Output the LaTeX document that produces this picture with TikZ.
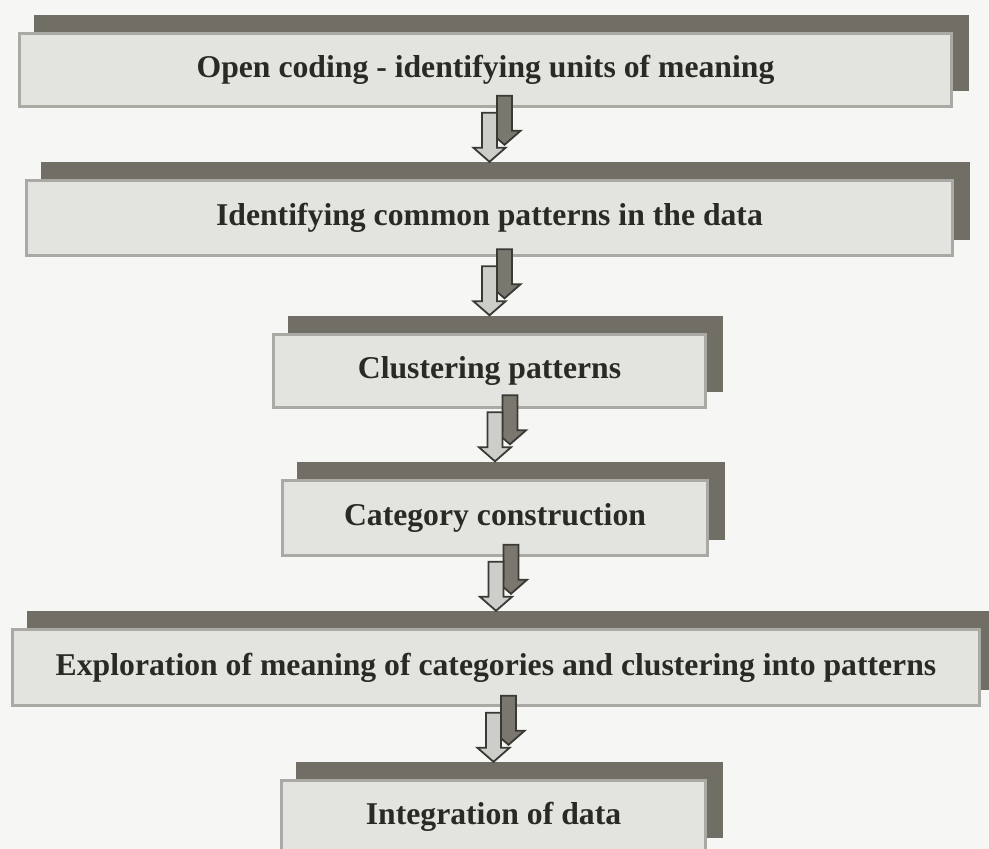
\documentclass[tikz,border=0pt]{standalone}
\usepackage{fontspec}
\setmainfont{Liberation Serif}
\definecolor{paper}{HTML}{F6F6F4}
\definecolor{backgray}{HTML}{716E65}
\definecolor{frontgray}{HTML}{E3E3E0}
\definecolor{rimgray}{HTML}{AAA9A4}
\definecolor{inkgray}{HTML}{2A2A25}
\definecolor{arrowrim}{HTML}{3A3A35}
\definecolor{arrowlight}{HTML}{CDCDC9}
\definecolor{arrowdark}{HTML}{7A776E}
\tikzset{
  backbox/.style={fill=backgray, draw=none, inner sep=0pt},
  frontbox/.style={fill=frontgray, draw=rimgray, line width=3pt, inner sep=0pt,
    font=\fontsize{31.7}{36}\selectfont\bfseries, text=inkgray},
  arrowbody/.style={draw=arrowrim, line width=1.8pt, line join=miter},
  flowarrow/.pic={
    % shaded arrow behind, shifted up and right
    \begin{scope}[shift={(15,-17)}]
      \path[arrowbody, fill=arrowdark] (-7.5,-49) -- (7.5,-49) -- (7.5,-14) -- (16,-14)
        -- (0,0) -- (-16,-14) -- (-7.5,-14) -- cycle;
    \end{scope}
    \path[arrowbody, fill=arrowlight] (-7.5,-49) -- (7.5,-49) -- (7.5,-14) -- (16,-14)
      -- (0,0) -- (-16,-14) -- (-7.5,-14) -- cycle;
  }
}
% one stage: dark slab behind, light panel with the label in front
\newcommand{\stagebox}[6]{%
  \node[backbox, minimum width=#4pt, minimum height=#5pt] (#1b) at (#2+16,#3-17) {};
  \node[frontbox, minimum width=#4pt-3pt, minimum height=#5pt-3pt] (#1) at (#2,#3) {#6};
}
\begin{document}
\begin{tikzpicture}[x=1pt,y=-1pt]
\useasboundingbox (0,0) rectangle (989,849);
\fill[paper] (0,0) rectangle (989,849);

\stagebox{s1}{485.5}{69.5}{935}{76}{Open coding - identifying units of meaning}
\stagebox{s2}{489.5}{218}{929}{78}{Identifying common patterns in the data}
\stagebox{s3}{489.5}{370.5}{435}{76}{Clustering patterns}
\stagebox{s4}{495}{517.5}{428}{78}{Category construction}
\stagebox{s5}{496}{667.5}{970}{79}{Exploration of meaning of categories and clustering into patterns}
\stagebox{s6}{493.5}{817}{427}{76}{Integration of data}

% arrow tips sit on the top edge of the next slab
\coordinate (t2) at (s2.north |- s2b.north);
\coordinate (t3) at (s3.north |- s3b.north);
\coordinate (t4) at (s4.north |- s4b.north);
\coordinate (t5) at (s5.north |- s5b.north);
\coordinate (t6) at (s6.north |- s6b.north);
\foreach \t in {t2,t3,t4,t5,t6} \pic at (\t) {flowarrow};
\end{tikzpicture}
\end{document}
